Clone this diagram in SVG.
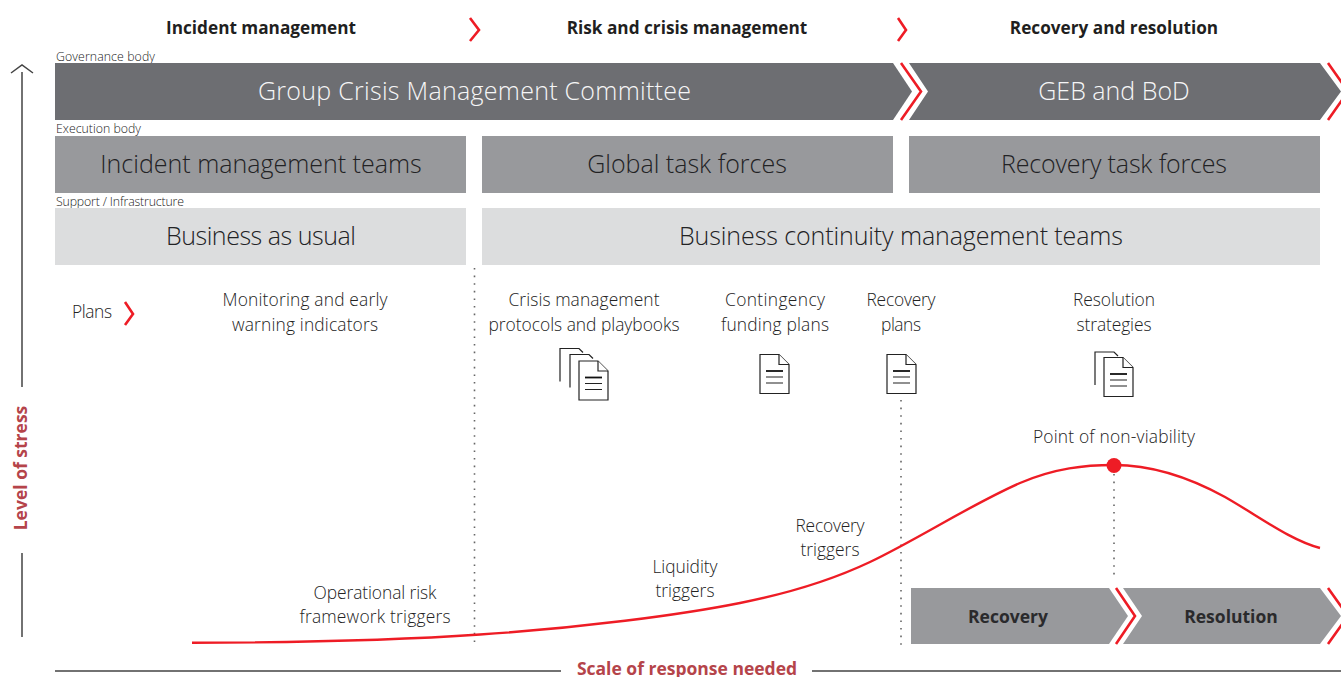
<svg xmlns="http://www.w3.org/2000/svg" width="1341" height="677" viewBox="0 0 1341 677">
<style>
text{font-family:"Open Sans","Noto Sans","Liberation Sans",sans-serif;text-anchor:middle}
.h{font-size:17.2px;font-weight:700;fill:#1f1f21}
.big{font-size:25px;font-weight:300}
.w{fill:#f6f6f7}.d{fill:#222224}
.s{font-size:12.300px;fill:#222;text-anchor:start;font-weight:300}
.t{font-size:17.400px;fill:#222;font-weight:300}
.a{font-size:17.500px;font-weight:700;fill:#b5444a}
.b{font-size:17.500px;font-weight:700;fill:#2a2a2c}
.red{fill:none;stroke:#ee1c25;stroke-width:2.6}
.ax{fill:none;stroke:#444;stroke-width:1.5}
.dot{fill:none;stroke:#666;stroke-width:1.6;stroke-dasharray:1.6 6}
.doc{fill:#fff;stroke:#222;stroke-width:1.2}
.ln{fill:none;stroke:#222;stroke-width:1.1}
.ln1{fill:none;stroke:#111;stroke-width:1.800}
</style>
<defs>
<g id="doc"><path class="doc" d="M0 0H19L29 10V39H0Z"/><path class="doc" d="M19 0V10H29"/><path class="ln1" d="M6 16.500H23"/><path class="ln" d="M6 22.500H23M6 28.500H23"/></g>
<path id="back" class="doc" style="fill:none" d="M0 33V0H19L23 4"/>
</defs>
<g id="phases">
<text class="h" x="261" y="33.500">Incident management</text>
<text class="h" x="687" y="33.500">Risk and crisis management</text>
<text class="h" x="1114" y="33.500">Recovery and resolution</text>
<path class="red" d="M470 18L479 30L470 41M898 18L906 30L898 41"/>
</g>
<text class="s" x="56" y="61" textLength="99">Governance body</text>
<text class="s" x="56" y="133" textLength="85">Execution body</text>
<text class="s" x="56" y="206" textLength="128">Support / Infrastructure</text>
<g id="gcmc"><path fill="#6d6e72" d="M55 63H893L912 91.500L893 120H55Z"/><text class="big w" x="474.500" y="100" textLength="433">Group Crisis Management Committee</text></g>
<g id="geb"><path fill="#6d6e72" d="M909 63H1320L1341 91.500L1320 120H909L928 91.500Z"/><text class="big w" x="1114" y="100">GEB and BoD</text></g>
<path class="red" d="M901 63L921 91.500L901 120M1328 63L1348 91.500L1328 120"/>
<g id="imt"><rect x="55" y="136" width="411" height="57" fill="#98999c"/><text class="big d" x="261" y="173">Incident management teams</text></g>
<g id="gtf"><rect x="482" y="136" width="411" height="57" fill="#98999c"/><text class="big d" x="687" y="173">Global task forces</text></g>
<g id="rtf"><rect x="909" y="136" width="411" height="57" fill="#98999c"/><text class="big d" x="1114" y="173" textLength="226">Recovery task forces</text></g>
<g id="bau"><rect x="55" y="208" width="411" height="57" fill="#dcddde"/><text class="big d" x="261" y="245" textLength="190">Business as usual</text></g>
<g id="bcm"><rect x="482" y="208" width="838" height="57" fill="#dcddde"/><text class="big d" x="901" y="245" textLength="444">Business continuity management teams</text></g>
<g id="plans">
<text class="t" x="92" y="318" textLength="40">Plans</text>
<path class="red" d="M125 302L133 314L125 325"/>
<text class="t" x="305" y="306" textLength="165">Monitoring and early</text><text class="t" x="305" y="331" textLength="146">warning indicators</text>
<text class="t" x="584" y="306" textLength="151">Crisis management</text><text class="t" x="584" y="331" textLength="191">protocols and playbooks</text>
<text class="t" x="775" y="306" textLength="100">Contingency</text><text class="t" x="775" y="331" textLength="108">funding plans</text>
<text class="t" x="901" y="306" textLength="69">Recovery</text><text class="t" x="901" y="331" textLength="40">plans</text>
<text class="t" x="1114" y="306" textLength="82">Resolution</text><text class="t" x="1114" y="331" textLength="75">strategies</text>
</g>
<g id="docs">
<use href="#back" x="560" y="348.500"/><use href="#back" x="570" y="354.500"/><use href="#doc" x="579" y="361"/>
<use href="#doc" x="760" y="354.500"/><use href="#doc" x="887" y="354.500"/>
<use href="#back" x="1095" y="352"/><use href="#doc" x="1104" y="357.500"/>
</g>
<g id="connectors">
<path class="dot" d="M474.500 268V648M901 400V648M1114 474V578"/>
<path class="ax" d="M22 637V553M22 387V72M11 73L22 65L33 73"/>
<path class="ax" d="M55 671H561M812 671H1341"/>
<path fill="none" stroke="#ee1c25" stroke-width="2.400" d="M192 642.800C300 642.500 400 640 480 634.500C580 628 680 615 740 603C790 593 830 581 870 562C920 538 970 505 1020 483C1055 468 1085 465 1114 465C1150 465 1185 475 1225 497C1260 517 1290 540 1320 548"/>
<circle cx="1114" cy="465.500" r="7.500" fill="#ee1c25"/>
</g>
<g id="labels">
<text class="t" x="1114" y="443" textLength="162">Point of non-viability</text>
<text class="t" x="830" y="532" textLength="69">Recovery</text><text class="t" x="830" y="556" textLength="59">triggers</text>
<text class="t" x="685" y="573" textLength="65">Liquidity</text><text class="t" x="685" y="597" textLength="59">triggers</text>
<text class="t" x="375" y="599" textLength="123">Operational risk</text><text class="t" x="375" y="623" textLength="151">framework triggers</text>
<text class="a" x="687" y="675">Scale of response needed</text>
<text class="a" transform="translate(27 468) rotate(-90)">Level of stress</text>
</g>
<g id="recovery"><path fill="#98999c" d="M911 588H1109L1128 616L1109 644H911Z"/><text class="b" x="1008" y="623">Recovery</text></g>
<g id="resolution"><path fill="#98999c" d="M1123 588H1320L1341 616L1320 644H1123L1142 616Z"/><text class="b" x="1231" y="623">Resolution</text></g>
<path class="red" d="M1116 588L1135 616L1116 644M1328 588L1348 616L1328 644"/>
</svg>
